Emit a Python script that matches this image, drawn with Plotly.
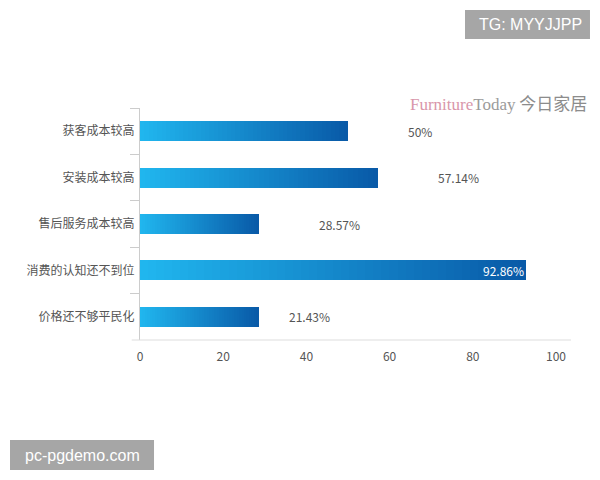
import plotly.graph_objects as go

# ---- data ----
categories = ["获客成本较高", "安装成本较高", "售后服务成本较高", "消费的认知还不到位", "价格还不够平民化"]
bar_values = [50, 57.14, 28.57, 92.86, 28.57]          # bar lengths as drawn
label_values = [50, 57.14, 28.57, 92.86, 21.43]        # printed percentages
label_texts = ["50%", "57.14%", "28.57%", "92.86%", "21.43%"]
x_ticks = [0, 20, 40, 60, 80, 100]

# ---- gradient via stacked segments ----
N_SEG = 48
c0 = (32, 182, 238)   # light cyan (left)
c1 = (9, 90, 168)     # dark blue (right)

def mix(t):
    return "rgb(%d,%d,%d)" % tuple(round(a + (b - a) * t) for a, b in zip(c0, c1))

fig = go.Figure()
for j in range(N_SEG):
    fig.add_trace(go.Bar(
        y=categories,
        x=[v / N_SEG for v in bar_values],
        orientation="h",
        marker=dict(color=mix(j / (N_SEG - 1)), line=dict(width=0)),
        width=0.43,
        hoverinfo="skip",
        showlegend=False,
    ))

FONT = "Noto Sans CJK SC, Noto Sans, sans-serif"
annotations = []
for cat, v, t in zip(categories, label_values, label_texts):
    if v > 80:
        annotations.append(dict(x=v, y=cat, xref="x", yref="y", text=t, showarrow=False,
                                xanchor="right", xshift=0, font=dict(family=FONT, size=12, color="white")))
    else:
        annotations.append(dict(x=v, y=cat, xref="x", yref="y", text=t, showarrow=False,
                                xanchor="left", xshift=58, font=dict(family=FONT, size=12, color="#555555")))

# logo
annotations.append(dict(
    x=1.08, y=1.022, xref="paper", yref="paper", xanchor="right", yanchor="middle", showarrow=False,
    text=('<span style="font-family:Liberation Serif;color:#d996aa">Furniture</span>'
          '<span style="font-family:Liberation Serif;color:#9b9b9b">Today</span>'
          '<span style="color:#8c8c8c"> 今日家居</span>'),
    font=dict(family=FONT, size=17, color="#8c8c8c"),
))
# watermarks
annotations.append(dict(x=0.9375, y=1.36, xref="paper", yref="paper", text="TG: MYYJJPP", showarrow=False,
                        xanchor="center", yanchor="middle",
                        font=dict(family="Liberation Sans, Arial, sans-serif", size=16, color="white")))
annotations.append(dict(x=-0.1394, y=-0.4957, xref="paper", yref="paper", text="pc-pgdemo.com", showarrow=False,
                        xanchor="center", yanchor="middle",
                        font=dict(family="Liberation Sans, Arial, sans-serif", size=16, color="white")))

shapes = [
    # x axis line (extends a bit beyond plot)
    dict(type="line", xref="paper", yref="paper", x0=-0.02, x1=1.036, y0=0, y1=0,
         line=dict(color="#dddddd", width=1)),
    # watermark boxes
    dict(type="rect", xref="paper", yref="paper", x0=0.78125, x1=1.0817, y0=1.297, y1=1.422,
         fillcolor="#a6a6a6", line=dict(width=0), layer="below"),
    dict(type="rect", xref="paper", yref="paper", x0=-0.3125, x1=0.0337, y0=-0.560, y1=-0.431,
         fillcolor="#a6a6a6", line=dict(width=0), layer="below"),
]

fig.update_layout(
    width=600, height=480,
    margin=dict(l=140, r=44, t=108, b=140),
    paper_bgcolor="white", plot_bgcolor="white",
    barmode="stack", bargap=0,
    showlegend=False,
    font=dict(family=FONT, size=12, color="#555555"),
    annotations=annotations,
    shapes=shapes,
    xaxis=dict(range=[0, 100], tickvals=x_ticks, showgrid=False, zeroline=False, showline=False,
               ticks="", ticklabelstandoff=8, tickfont=dict(family=FONT, size=12, color="#555555")),
    yaxis=dict(categoryorder="array", categoryarray=categories, autorange="reversed",
               showline=True, linecolor="#cccccc", linewidth=1, showgrid=False, zeroline=False,
               ticks="outside", tickson="boundaries", ticklen=9, tickcolor="#cccccc",
               ticklabelstandoff=2,
               tickfont=dict(family=FONT, size=12, color="#555555")),
)

fig.write_html("out.html", config={"displayModeBar": False},
               post_script="document.body.style.margin='0px';")
